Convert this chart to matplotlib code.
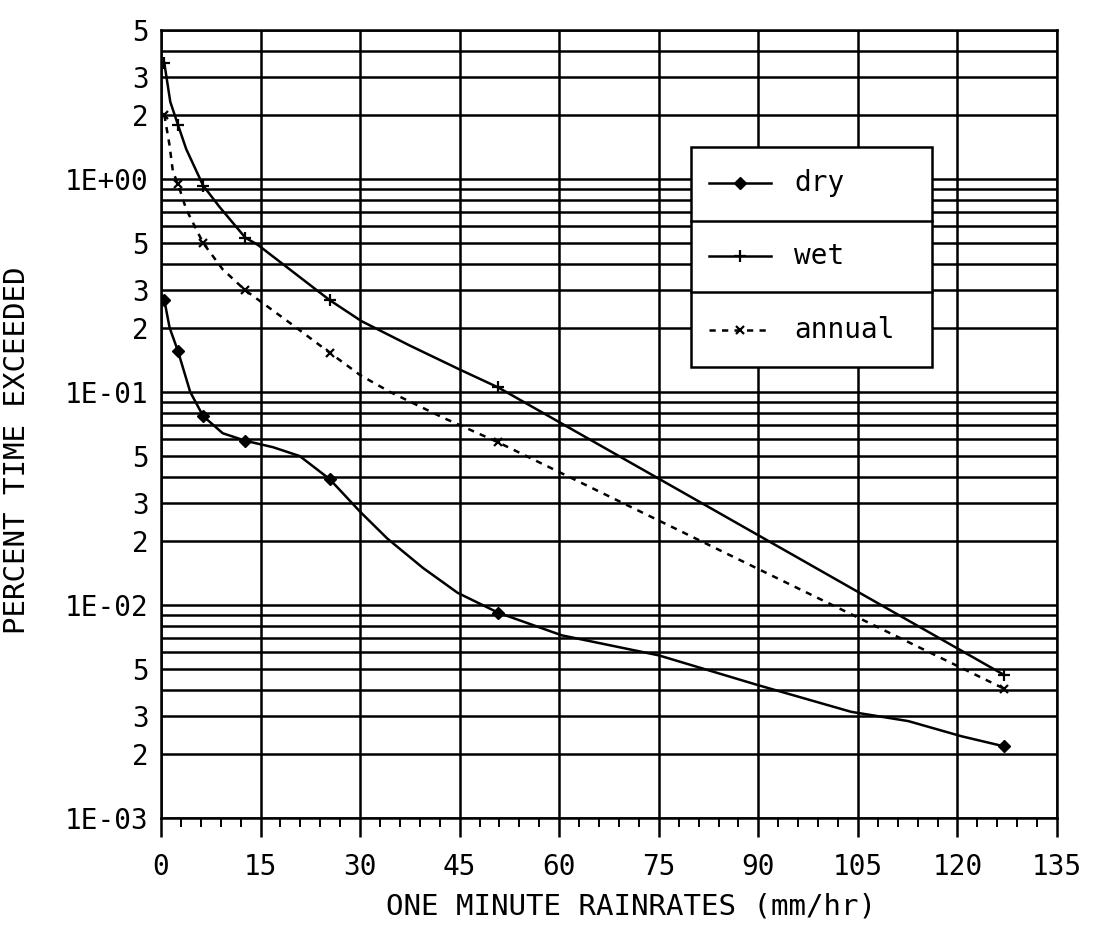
import numpy as np
import matplotlib.pyplot as plt
from matplotlib.lines import Line2D
from matplotlib.patches import Rectangle

plt.rcParams['font.family'] = ['DejaVu Sans Mono']

# one minute rain rates (mm/hr) and percent of time exceeded
dry_x = [0.5, 1.3, 2.54, 4.4, 6.35, 9.3, 12.7, 16.9, 20.9, 25.4, 30.0, 34.1,
         39.5, 44.7, 50.8, 60.4, 75.0, 90.0, 104.0, 112.6, 120.6, 127.0]
dry_y = [0.27, 0.20, 0.156, 0.10, 0.077, 0.064, 0.059, 0.055, 0.050, 0.039,
         0.0274, 0.0205, 0.0149, 0.0114, 0.0092, 0.0072, 0.0058, 0.0042,
         0.00315, 0.00285, 0.00242, 0.00217]
dry_marks = [0, 2, 4, 6, 9, 14, 21]

wet_x = [0.5, 1.4, 2.54, 3.8, 6.35, 8.8, 12.7, 14.6, 19.4, 25.4, 30.2, 37.5,
         45.1, 50.8, 127.0]
wet_y = [3.5, 2.3, 1.8, 1.38, 0.93, 0.74, 0.53, 0.49, 0.376, 0.27, 0.215,
         0.165, 0.127, 0.105, 0.0047]
wet_marks = [0, 2, 4, 6, 9, 13, 14]

ann_x = [0.5, 1.27, 1.8, 2.54, 3.8, 6.35, 9.3, 12.7, 19.5, 25.4, 30.0, 34.5,
         42.5, 50.8, 127.0]
ann_y = [2.0, 1.45, 1.08, 0.95, 0.72, 0.50, 0.376, 0.30, 0.21, 0.153, 0.12,
         0.10, 0.0757, 0.058, 0.00405]
ann_marks = [0, 3, 5, 7, 9, 13, 14]

x_major = np.arange(0, 136, 15)
x_minor = np.arange(0, 136, 3)
y_grid = [m * 10.0 ** e for e in range(-3, 1) for m in range(1, 10)
          if m * 10.0 ** e <= 5.0]
y_names = {1e-3: '1E-03', 1e-2: '1E-02', 1e-1: '1E-01', 1.0: '1E+00'}

lw = 1.8
fig = plt.figure(figsize=(10.94, 9.31), dpi=100)
ax = fig.add_axes([161 / 1094, 1 - 818 / 931, 896 / 1094, 788 / 931])

ax.plot(dry_x, dry_y, color='black', lw=lw, marker='D', ms=6,
        markevery=dry_marks, zorder=3)
ax.plot(wet_x, wet_y, color='black', lw=lw, marker='+', ms=8, mew=1.6,
        markevery=wet_marks, zorder=3)
ax.plot(ann_x, ann_y, color='black', lw=lw, ls=(0, (2.5, 2.5)), marker='x',
        ms=6, mew=1.6, markevery=ann_marks, zorder=3)

ax.set_yscale('log')

# y: a gridline for every 1..9 step, labels only at decades and 2, 3, 5
labels = []
for v in y_grid:
    key = round(v, 6)
    if key in y_names:
        labels.append(y_names[key])
    else:
        m = round(v / 10.0 ** np.floor(np.log10(v) + 1e-9))
        labels.append(str(m) if m in (2, 3, 5) else '')
ax.set_yticks(y_grid)
ax.set_yticklabels(labels)
ax.yaxis.set_minor_locator(plt.NullLocator())
ax.tick_params(axis='y', length=0, pad=9, labelsize=20)

ax.set_xticks(x_major)
ax.set_xticks(x_minor, minor=True)
ax.tick_params(axis='x', which='major', direction='out', length=14, width=lw,
               pad=11, labelsize=20)
ax.tick_params(axis='x', which='minor', direction='out', length=6.5, width=1.4)

ax.set_xlim(0, 135)
ax.set_ylim(1e-3, 5)

ax.grid(True, which='major', color='black', lw=lw)
for s in ax.spines.values():
    s.set_linewidth(lw)

ax.set_xlabel('ONE MINUTE RAINRATES (mm/hr)', fontsize=21)
ax.set_ylabel('PERCENT TIME EXCEEDED', fontsize=21)
ax.xaxis.set_label_coords(0.525, -0.095)
ax.yaxis.set_label_coords(-0.145, 0.467)

# boxed key with one row per series
x0, x1, y0, y1 = 0.591, 0.860, 0.5723, 0.8515
ax.add_patch(Rectangle((x0, y0), x1 - x0, y1 - y0, transform=ax.transAxes,
                       facecolor='white', edgecolor='black', lw=lw, zorder=5))
for ys in (0.7576, 0.6675):
    ax.add_line(Line2D([x0, x1], [ys, ys], transform=ax.transAxes,
                       color='black', lw=lw, zorder=6))
rows = [('dry', 0.806, dict(marker='D', ms=6)),
        ('wet', 0.713, dict(marker='+', ms=8, mew=1.6)),
        ('annual', 0.619, dict(marker='x', ms=6, mew=1.6, ls=(0, (2.5, 2.5))))]
for name, yr, style in rows:
    ax.add_line(Line2D([0.612, 0.6465, 0.681], [yr, yr, yr], transform=ax.transAxes,
                       color='black', lw=lw, markevery=[1], zorder=6, **style))
    ax.text(0.707, yr, name, transform=ax.transAxes, fontsize=20,
            va='center', ha='left', zorder=7)

fig.savefig('out.png', dpi=100)
